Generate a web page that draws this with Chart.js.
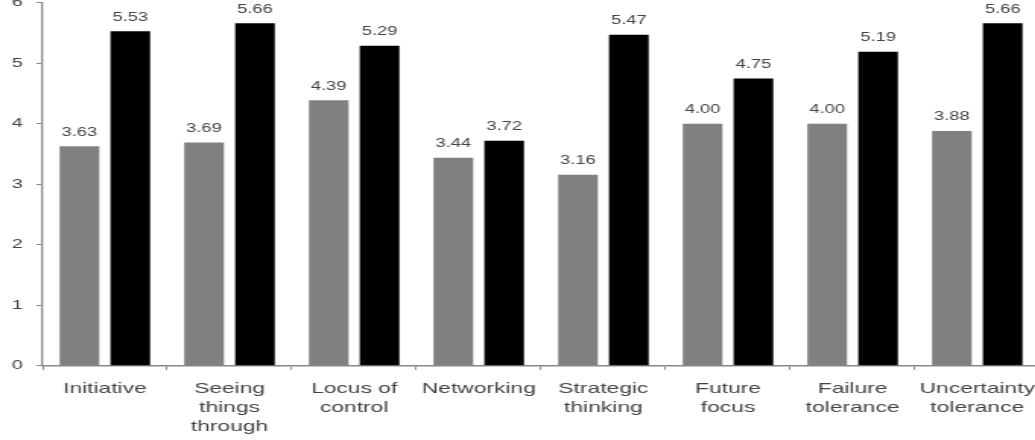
<!DOCTYPE html>
<html>
<head>
<meta charset="utf-8">
<script src="https://cdn.jsdelivr.net/npm/chart.js@4"></script>
<style>
  html, body { margin: 0; padding: 0; background: #fff; overflow: hidden; }
  /* the source picture is stretched sideways, so the canvas is too */
  #barChart { position: absolute; left: 0; top: -14px; transform: scaleX(1.52); transform-origin: 0 0; }
</style>
</head>
<body>
<canvas id="barChart" width="690" height="459"></canvas>
<script>
const categories = [
    'Initiative',
    ['Seeing', 'things', 'through'],
    ['Locus of', 'control'],
    'Networking',
    ['Strategic', 'thinking'],
    ['Future', 'focus'],
    ['Failure', 'tolerance'],
    ['Uncertainty', 'tolerance']
];
const greyValues = [3.63, 3.69, 4.39, 3.44, 3.16, 4.00, 4.00, 3.88];
const blackValues = [5.53, 5.66, 5.29, 3.72, 5.47, 4.75, 5.19, 5.66];
const yTicks = [0, 1, 2, 3, 4, 5, 6];

// draws the value above each bar
const valueLabels = {
    id: 'valueLabels',
    afterDatasetsDraw(chart) {
        const ctx = chart.ctx;
        ctx.save();
        ctx.font = '12px "Liberation Sans", Arial, sans-serif';
        ctx.fillStyle = '#444';
        ctx.textAlign = 'center';
        ctx.textBaseline = 'bottom';
        chart.data.datasets.forEach((ds, i) => {
            chart.getDatasetMeta(i).data.forEach((bar, j) => {
                ctx.fillText(ds.data[j].toFixed(2), bar.x, bar.y - 8);
            });
        });
        ctx.restore();
    }
};

window.onload = function() {
    const ctx = document.getElementById('barChart').getContext('2d');
    new Chart(ctx, {
        type: 'bar',
        data: {
            labels: categories,
            datasets: [{
                data: greyValues,
                backgroundColor: '#808080',
                categoryPercentage: 0.816,
                barPercentage: 0.78
            }, {
                data: blackValues,
                backgroundColor: '#000000',
                categoryPercentage: 0.816,
                barPercentage: 0.78
            }]
        },
        options: {
            responsive: false,
            animation: false,
            devicePixelRatio: 1,
            layout: { padding: { left: 7, right: 2, top: 0, bottom: 0 } },
            plugins: {
                legend: { display: false },
                tooltip: { enabled: false }
            },
            scales: {
                x: {
                    grid: {
                        display: true,
                        drawOnChartArea: false,
                        drawTicks: true,
                        tickLength: 4,
                        color: '#888'
                    },
                    border: { color: '#888', width: 1.5 },
                    ticks: {
                        color: '#444',
                        padding: 9,
                        maxRotation: 0,
                        autoSkip: false,
                        font: { family: '"Liberation Sans", Arial, sans-serif', size: 15, lineHeight: 1.27 }
                    }
                },
                y: {
                    min: 0,
                    max: 6,
                    afterBuildTicks(axis) {
                        axis.ticks = yTicks.map(v => ({ value: v }));
                    },
                    afterFit(axis) {
                        axis.width = 21;
                    },
                    grid: {
                        display: true,
                        drawOnChartArea: false,
                        drawTicks: true,
                        tickLength: 4,
                        color: '#888'
                    },
                    border: { color: '#888', width: 1.3 },
                    ticks: {
                        color: '#444',
                        padding: 9,
                        font: { family: '"Liberation Sans", Arial, sans-serif', size: 13 }
                    }
                }
            }
        },
        plugins: [valueLabels]
    });
};
</script>
</body>
</html>
